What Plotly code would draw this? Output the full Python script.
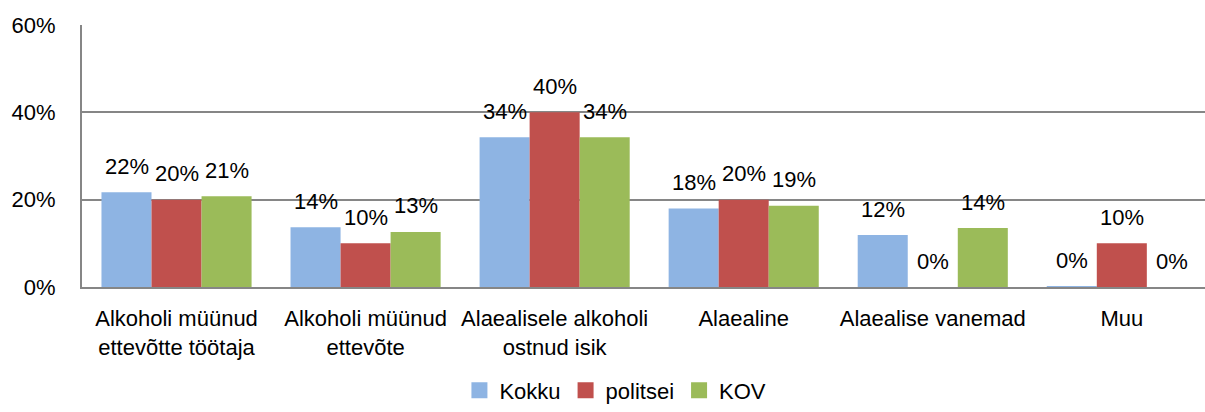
import plotly.graph_objects as go

categories = ["Alkoholi müünud<br>ettevõtte töötaja", "Alkoholi müünud<br>ettevõte",
              "Alaealisele alkoholi<br>ostnud isik", "Alaealine", "Alaealise vanemad", "Muu"]
series_names = ["Kokku", "politsei", "KOV"]
kokku = [0.217, 0.137, 0.343, 0.180, 0.119, 0.002]
politsei = [0.200, 0.100, 0.400, 0.200, 0.000, 0.100]
kov = [0.208, 0.126, 0.343, 0.186, 0.135, 0.000]
y_ticks = [0, 0.2, 0.4, 0.6]
y_tick_labels = ["0%", "20%", "40%", "60%"]

colors = ["#8EB4E3", "#C0504D", "#9BBB59"]
FONT = "Liberation Sans"
FS = 22

fig = go.Figure()
all_series = [kokku, politsei, kov]
for name, vals, c in zip(series_names, all_series, colors):
    fig.add_trace(go.Bar(name=name, x=categories, y=vals, marker=dict(color=c, line=dict(width=0)),
                         hoverinfo="x+y", showlegend=False))
# legend entries with larger square swatches
for name, c in zip(series_names, colors):
    fig.add_trace(go.Scatter(name=name, x=[None], y=[None], mode="markers",
                             marker=dict(symbol="square", size=16, color=c), showlegend=True))

shifts = [-50, 0, 50]
for vals, xs in zip(all_series, shifts):
    for cat, v in zip(categories, vals):
        fig.add_annotation(x=cat, y=v, xref="x", yref="y", text=f"{round(v * 100):.0f}%",
                           showarrow=False, xshift=xs, yshift=26, yanchor="middle",
                           font=dict(family=FONT, size=FS, color="#000000"))

fig.update_layout(
    width=1205, height=412,
    margin=dict(l=82, r=0, t=25, b=119),
    paper_bgcolor="white", plot_bgcolor="white",
    barmode="group", bargap=0.206, bargroupgap=0,
    font=dict(family=FONT, size=FS, color="#000000"),
    showlegend=True,
    legend=dict(orientation="h", x=0.475, xanchor="center", y=-0.395, yanchor="middle",
                font=dict(family=FONT, size=FS, color="#000000"), itemwidth=30,
                traceorder="normal", tracegroupgap=0),
)
fig.update_xaxes(range=[-0.5, 5.44], showgrid=False, showline=True, linecolor="#868686", linewidth=2,
                 ticks="", tickfont=dict(family=FONT, size=FS), ticklabelstandoff=11, automargin=False)
fig.update_yaxes(range=[0, 0.6], tickvals=y_ticks, ticktext=y_tick_labels, showgrid=True,
                 gridcolor="#868686", gridwidth=1.5, showline=True, linecolor="#868686", linewidth=2,
                 zeroline=False, ticks="", tickfont=dict(family=FONT, size=FS), ticklabelstandoff=20,
                 automargin=False)

fig.write_html("out.html", config={"displayModeBar": False},
               post_script="document.body.style.margin='0px';document.body.style.overflow='hidden';")
